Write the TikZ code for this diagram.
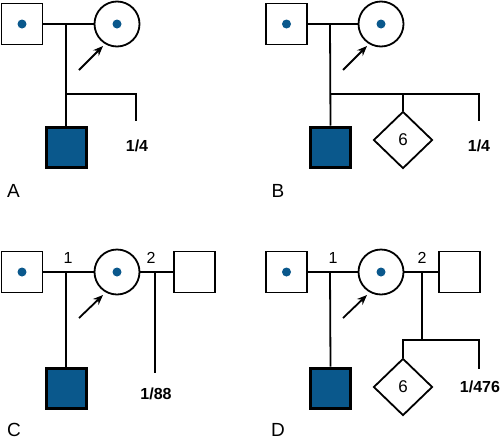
\documentclass[tikz,border=0pt]{standalone}
\usepackage{fontspec}
\setmainfont{Liberation Sans}
\usepackage{tikz}
\usetikzlibrary{arrows.meta,positioning,shapes.geometric}
\definecolor{carrierblue}{RGB}{10,88,140}

\begin{document}
\begin{tikzpicture}[x=1pt, y=-1pt,
  sq/.style={draw, line width=1.8pt, minimum size=41pt, inner sep=0pt, fill=white},
  aff/.style={draw, line width=3pt, minimum size=40pt, inner sep=0pt, fill=carrierblue},
  ci/.style={draw, circle, line width=1.8pt, minimum size=45pt, inner sep=0pt},
  dia/.style={draw, diamond, line width=1.8pt, minimum width=59pt, minimum height=57pt,
              inner sep=0pt, font=\fontsize{17}{19}\selectfont},
  ln/.style={line width=1.8pt},
  arr/.style={-{Stealth[length=10pt, width=8pt]}, line width=1.8pt},
  prob/.style={font=\bfseries\fontsize{16}{18}\selectfont},
  num/.style={font=\fontsize{16}{18}\selectfont},
  pan/.style={font=\fontsize{19}{21}\selectfont},
]
\useasboundingbox (0,0) rectangle (500,442);

% A
\node[sq] (fA) at (22,24) {};
\node[ci] (mA) at (117,24) {};
\node[aff] (sA) at (66,147) {};
\fill[carrierblue] (fA) circle (4.5pt) (mA) circle (4.5pt);
\coordinate (uA) at (66,24);
\coordinate (bA) at (66,94);
\coordinate (eA) at (136,121);
\coordinate (pA) at (79,70);
\coordinate (hA) at (103,46);
\draw[ln] (fA.east) -- (mA.west);
\draw[ln] (uA) -- (sA.north);
\draw[ln] (bA) -| (eA);
\draw[arr] (pA) -- (hA);
\node[prob] (tA) at (137,146) {1/4};
\node[pan] (lA) at (13.5,190.5) {A};

% B
\node[sq] (fB) at (286.5,24) {};
\node[ci] (mB) at (381,24) {};
\node[aff] (sB) at (330.5,147) {};
\node[dia] (dB) at (403,140) {6};
\fill[carrierblue] (fB) circle (4.5pt) (mB) circle (4.5pt);
\coordinate (uB) at (330,24);
\coordinate (bB) at (330,94);
\coordinate (eB) at (479,121);
\coordinate (pB) at (343,70);
\coordinate (hB) at (367,46);
\draw[ln] (fB.east) -- (mB.west);
\draw[ln] (uB) -- (sB.north);
\draw[ln] (bB) -| (eB);
\draw[ln] (dB.north |- bB) -- (dB.north);
\draw[arr] (pB) -- (hB);
\node[prob] (tB) at (479,146) {1/4};
\node[pan] (lB) at (278,190.5) {B};

% C
\node[sq] (fC) at (22,272) {};
\node[ci] (mC) at (117,272) {};
\node[sq] (wC) at (194.5,272) {};
\node[aff] (sC) at (66,388) {};
\fill[carrierblue] (fC) circle (4.5pt) (mC) circle (4.5pt);
\coordinate (uC) at (66,272);
\coordinate (vC) at (155,272);
\coordinate (eC) at (155,373);
\coordinate (pC) at (79,318);
\coordinate (hC) at (103,295);
\draw[ln] (fC.east) -- (mC.west);
\draw[ln] (mC.east) -- (wC.west);
\draw[ln] (uC) -- (sC.north);
\draw[ln] (vC) -- (eC);
\draw[arr] (pC) -- (hC);
\node[num] (oC) at (68,257.5) {1};
\node[num] (zC) at (151,257.5) {2};
\node[prob] (tC) at (156,394) {1/88};
\node[pan] (lC) at (14,430) {C};

% D
\node[sq] (fD) at (286.5,272) {};
\node[ci] (mD) at (381,272) {};
\node[sq] (wD) at (459.5,272) {};
\node[aff] (sD) at (330.5,388) {};
\node[dia] (dD) at (403,387) {6};
\fill[carrierblue] (fD) circle (4.5pt) (mD) circle (4.5pt);
\coordinate (uD) at (330,272);
\coordinate (vD) at (422,272);
\coordinate (bD) at (422,340);
\coordinate (eD) at (479,369);
\coordinate (pD) at (343,318);
\coordinate (hD) at (367,295);
\draw[ln] (fD.east) -- (mD.west);
\draw[ln] (mD.east) -- (wD.west);
\draw[ln] (uD) -- (sD.north);
\draw[ln] (vD) -- (bD);
\draw[ln] (dD.north) |- (eD |- bD) -- (eD);
\draw[arr] (pD) -- (hD);
\node[num] (oD) at (333,257.5) {1};
\node[num] (zD) at (422,257.5) {2};
\node[prob] (tD) at (480,387) {1/476};
\node[pan] (lD) at (278,430) {D};
\end{tikzpicture}
\end{document}
